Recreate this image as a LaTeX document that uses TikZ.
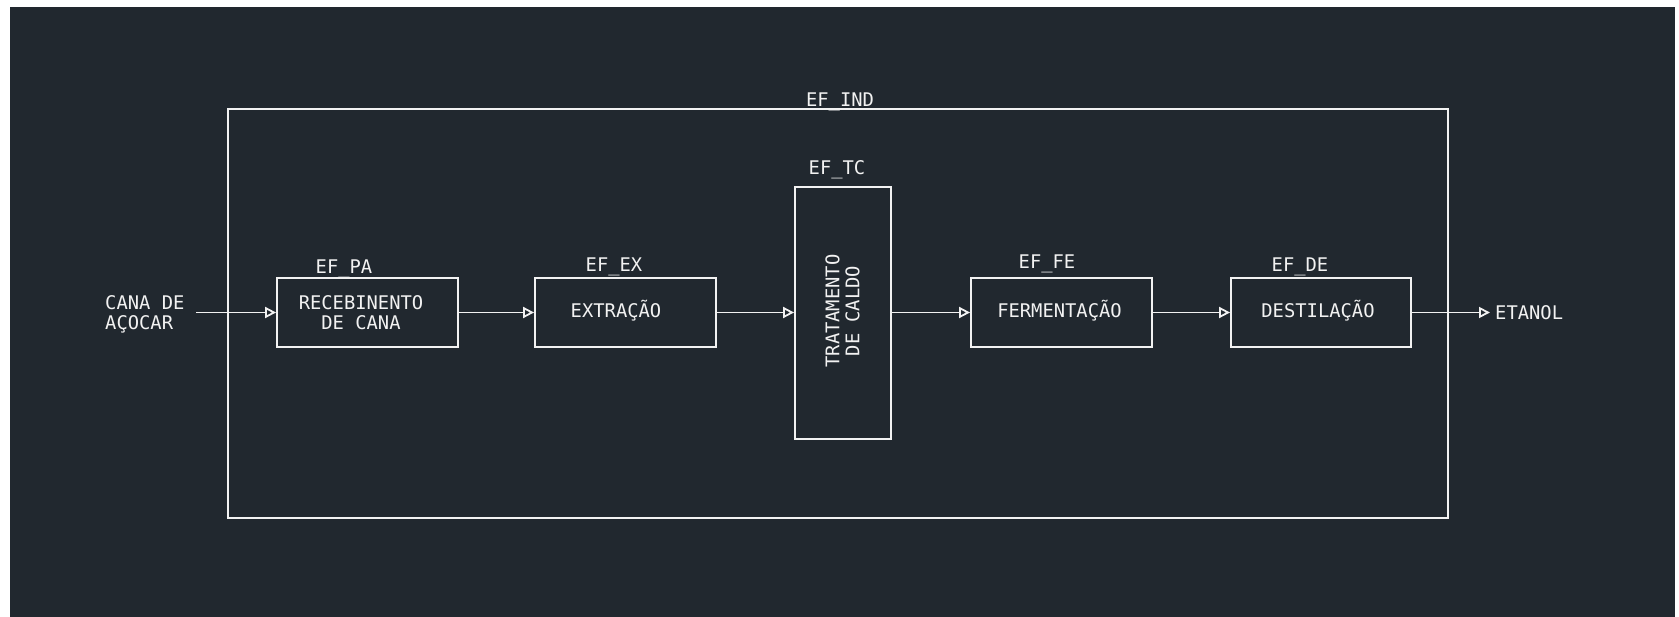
\documentclass[tikz,border=0pt]{standalone}
\usepackage{fontspec}
\setmonofont{DejaVu Sans Mono}
\usetikzlibrary{arrows.meta}
\definecolor{bgc}{HTML}{21282F}
\definecolor{fgc}{HTML}{F2F2F2}
\tikzset{
  lbl/.style={text=fgc, inner sep=0pt, font=\ttfamily\fontsize{18.8}{20}\selectfont},
  blk/.style={draw=fgc, line width=1.8pt, inner sep=0pt},
  arr/.style={draw=fgc, line width=1.8pt, -{Triangle[open, length=11pt, width=11pt]}},
}
\begin{document}
\begin{tikzpicture}[x=1pt, y=-1pt]
\useasboundingbox (0,0) rectangle (1679,617);
\fill[white] (0,0) rectangle (1679,617);
\fill[bgc] (10,7) rectangle (1675,617);
% outer box
\node[blk, minimum width=1220pt, minimum height=409pt] (ind) at (838,313.5) {};
\node[lbl, anchor=base] (lind) at (840,107) {EF\_IND};
% blocks
\node[blk, minimum width=181pt, minimum height=69pt] (pa) at (367.5,312.5) {};
\node[blk, minimum width=181pt, minimum height=69pt] (ex) at (625.5,312.5) {};
\node[blk, minimum width=96pt, minimum height=252pt] (tc) at (843,313) {};
\node[blk, minimum width=181pt, minimum height=69pt] (fe) at (1061.5,312.5) {};
\node[blk, minimum width=180pt, minimum height=69pt] (de) at (1321,312.5) {};
% block texts
\node[lbl, anchor=base, align=center] (tpa) at (361,330) {RECEBINENTO\\DE CANA};
\node[lbl, anchor=base] (tex) at (616,318) {EXTRAÇÃO};
\node[lbl, rotate=90, align=center] (ttc) at (842.5,311) {TRATAMENTO\\DE CALDO};
\node[lbl, anchor=base] (tfe) at (1059.5,318) {FERMENTAÇÃO};
\node[lbl, anchor=base] (tde) at (1318,318) {DESTILAÇÃO};
% block labels
\node[lbl, anchor=base] (lpa) at (344,274) {EF\_PA};
\node[lbl, anchor=base] (lex) at (614,272) {EF\_EX};
\node[lbl, anchor=base] (ltc) at (837,175) {EF\_TC};
\node[lbl, anchor=base] (lfe) at (1047,269) {EF\_FE};
\node[lbl, anchor=base] (lde) at (1300,272) {EF\_DE};
% input / output
\node[lbl, anchor=base west, align=left] (tin) at (105,330) {CANA DE\\AÇOCAR};
\coordinate (in) at (196,312.5);
\coordinate (out) at (1490,312.5);
\node[lbl, anchor=base west] (tout) at (1495,320) {ETANOL};
% connectors
\draw[arr] (in) -- (pa.west);
\draw[arr] (pa.east) -- (ex.west);
\draw[arr] (ex.east) -- (tc.west |- ex.east);
\draw[arr] (tc.east |- fe.west) -- (fe.west);
\draw[arr] (fe.east) -- (de.west);
\draw[arr] (de.east) -- (out);
\end{tikzpicture}
\end{document}
